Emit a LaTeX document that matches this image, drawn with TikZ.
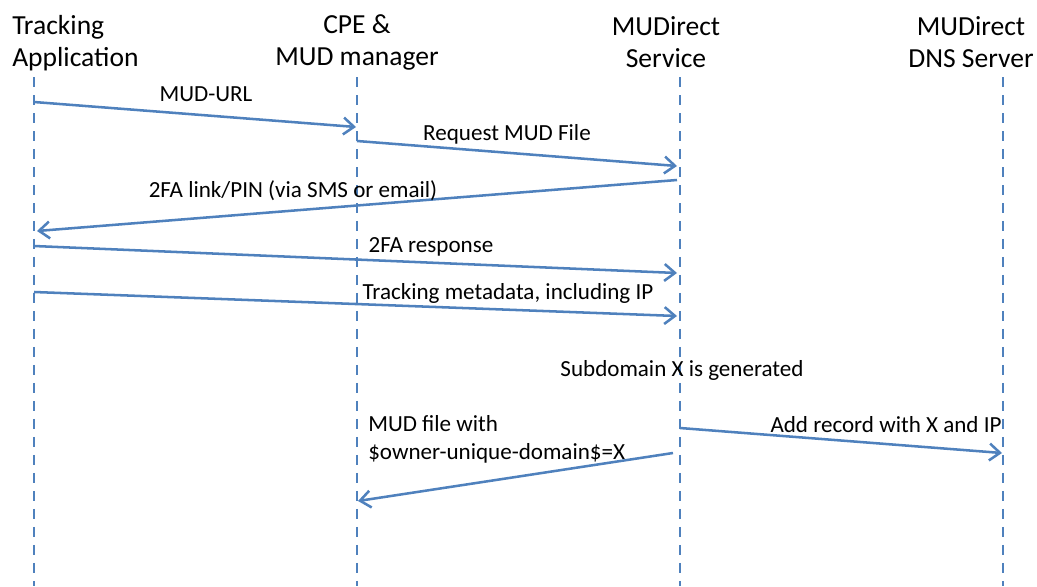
\documentclass[tikz,border=0pt]{standalone}
\usepackage{fontspec}
\setmainfont{Carlito}
\usetikzlibrary{arrows.meta,positioning}
\definecolor{msgblue}{HTML}{4F81BD}

\begin{document}
\begin{tikzpicture}[x=0.025cm,y=-0.025cm,
  head/.style={inner sep=0pt,align=center,anchor=north,font=\fontsize{19.6}{22.8}\selectfont},
  lbl/.style={inner sep=0pt,anchor=base,font=\fontsize{16.4}{19.9}\selectfont},
  lifeline/.style={msgblue,line width=2.1pt,dash pattern=on 7.1pt off 5.7pt},
  msg/.style={msgblue,line width=1.8pt,-{Straight Barb[length=7.5pt,width=12pt]}}]

  \useasboundingbox (0,0) rectangle (1037,586);

  % Participants
  \node[head,align=left,anchor=north west] (app) at (12,15) {Tracking\\Application};
  \node[head] (cpe) at (357,14) {CPE \&\\MUD manager};
  \node[head] (srv) at (666,16) {MUDirect\\Service};
  \node[head] (dns) at (971,16) {MUDirect\\DNS Server};

  % Lifelines
  \coordinate (appT) at (34,77);   \coordinate (appB) at (34,586);
  \coordinate (cpeT) at (357,77);  \coordinate (cpeB) at (357,586);
  \coordinate (srvT) at (680,77);  \coordinate (srvB) at (680,586);
  \coordinate (dnsT) at (1003,77); \coordinate (dnsB) at (1003,586);
  \draw[lifeline] (appT) -- (appB);
  \draw[lifeline] (cpeT) -- (cpeB);
  \draw[lifeline] (srvT) -- (srvB);
  \draw[lifeline] (dnsT) -- (dnsB);

  % MUD-URL
  \coordinate (a1) at (34,102);  \coordinate (b1) at (356,127);
  \draw[msg] (a1) -- (b1);
  \node[lbl] (l1) at (206,101) {MUD-URL};

  % Request MUD File
  \coordinate (b2) at (357,141); \coordinate (c2) at (677,166);
  \draw[msg] (b2) -- (c2);
  \node[lbl] (l2) at (507,140) {Request MUD File};

  % 2FA link
  \coordinate (c3) at (677,180); \coordinate (a3) at (37,231);
  \draw[msg] (c3) -- (a3);
  \node[lbl] (l3) at (293,197) {2FA link/PIN (via SMS or email)};

  % 2FA response
  \coordinate (a4) at (34,246);  \coordinate (c4) at (677,273);
  \draw[msg] (a4) -- (c4);
  \node[lbl] (l4) at (431,252) {2FA response};

  % Tracking metadata
  \coordinate (a5) at (34,292);  \coordinate (c5) at (677,316);
  \draw[msg] (a5) -- (c5);
  \node[lbl] (l5) at (508,299) {Tracking metadata, including IP};

  \node[lbl] (l6) at (682,376) {Subdomain X is generated};

  % Add record
  \coordinate (c7) at (680,428); \coordinate (d7) at (1002,453);
  \draw[msg] (c7) -- (d7);
  \node[lbl] (l7) at (886,432) {Add record with X and IP};

  % MUD file back to CPE
  \coordinate (c8) at (673,453); \coordinate (b8) at (358,501);
  \draw[msg] (c8) -- (b8);
  \node[lbl,align=left,anchor=north west] (l8) at (368,415) {MUD file with\\\$owner-unique-domain\$=X};
\end{tikzpicture}
\end{document}
